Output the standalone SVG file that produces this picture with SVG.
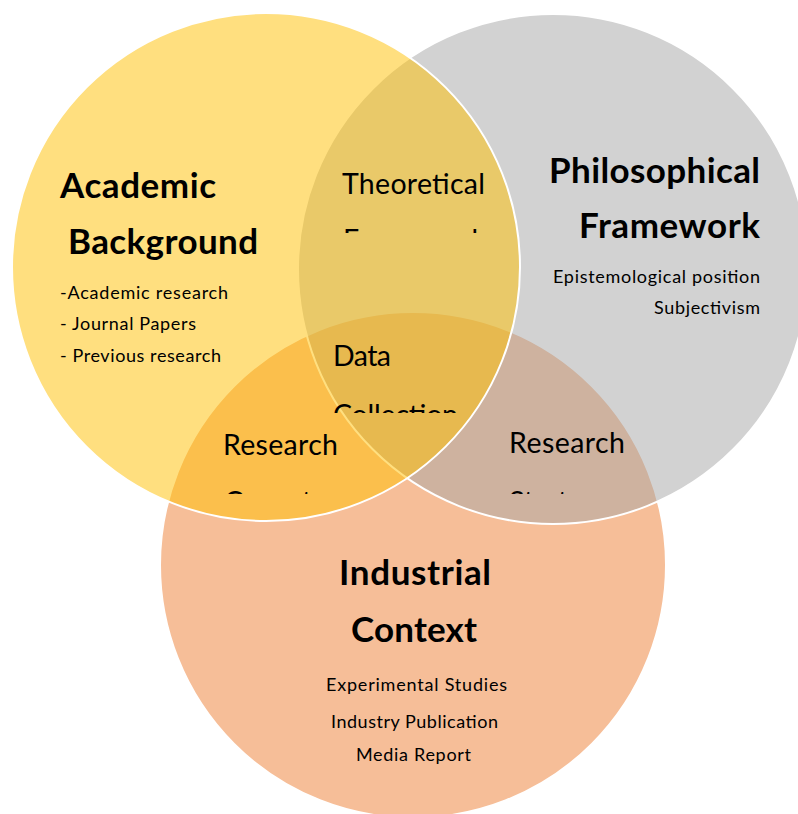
<svg xmlns="http://www.w3.org/2000/svg" width="798" height="814" viewBox="0 0 798 814">
  <style>
    .set { fill-opacity: 0.5; stroke: #FFFFFF; stroke-width: 2; }
    .title { font-family: Lato, "Open Sans", "Liberation Sans", sans-serif; font-weight: bold; font-size: 35px; fill: #000000; }
    .item { font-family: Lato, "Open Sans", "Liberation Sans", sans-serif; font-size: 18px; fill: #000000; }
    .overlap { font-family: Lato, "Open Sans", "Liberation Sans", sans-serif; font-size: 28.5px; fill: #000000; }
  </style>
  <defs>
    <!-- text boxes of the overlap labels cut off their second line -->
    <clipPath id="clipTheory" clipPathUnits="userSpaceOnUse"><rect x="300" y="140" width="220" height="93"/></clipPath>
    <clipPath id="clipData" clipPathUnits="userSpaceOnUse"><rect x="300" y="320" width="200" height="93"/></clipPath>
    <clipPath id="clipConcept" clipPathUnits="userSpaceOnUse"><rect x="190" y="400" width="180" height="94"/></clipPath>
    <clipPath id="clipStrategy" clipPathUnits="userSpaceOnUse"><rect x="480" y="400" width="180" height="94"/></clipPath>
  </defs>

  <rect width="798" height="814" fill="#FFFFFF"/>

  <g id="connectors"/>

  <!-- Industrial Context (bottom layer) -->
  <g id="industrial-context">
    <circle class="set" cx="413" cy="565" r="253" fill="#ED7D31"/>
    <text class="title" x="339" y="585" textLength="152">Industrial</text>
    <text class="title" x="351" y="642" textLength="126">Context</text>
    <text class="item" x="326" y="691" textLength="181">Experimental Studies</text>
    <text class="item" x="331" y="728" textLength="167">Industry Publication</text>
    <text class="item" x="356" y="761" textLength="115">Media Report</text>
  </g>

  <!-- Philosophical Framework (middle layer) -->
  <g id="philosophical-framework">
    <circle class="set" cx="553" cy="269" r="255" fill="#A5A5A5"/>
    <text class="title" x="549" y="183" textLength="211">Philosophical</text>
    <text class="title" x="579" y="238" textLength="181">Framework</text>
    <text class="item" x="553" y="283" textLength="207">Epistemological position</text>
    <text class="item" x="654" y="314" textLength="106">Subjectivism</text>
  </g>

  <!-- Academic Background (top layer) -->
  <g id="academic-background">
    <circle class="set" cx="266" cy="267" r="254" fill="#FFC000"/>
    <text class="title" x="60" y="198" textLength="156">Academic</text>
    <text class="title" x="68" y="254" textLength="190">Background</text>
    <text class="item" x="60" y="299" textLength="168">-Academic research</text>
    <text class="item" x="60" y="330" textLength="136">- Journal Papers</text>
    <text class="item" x="60" y="362" textLength="161">- Previous research</text>
  </g>

  <!-- overlap labels -->
  <g id="theoretical-framework" clip-path="url(#clipTheory)">
    <text class="overlap" x="342" y="194" textLength="143">Theoretical</text>
    <text class="overlap" x="343" y="250" textLength="143">Framework</text>
  </g>

  <g id="data-collection" clip-path="url(#clipData)">
    <text class="overlap" x="333" y="366" textLength="58">Data</text>
    <text class="overlap" x="333" y="425" textLength="125">Collection</text>
  </g>

  <g id="research-concept" clip-path="url(#clipConcept)">
    <text class="overlap" x="223" y="455" textLength="115">Research</text>
    <text class="overlap" x="224" y="512" textLength="88">Concept</text>
  </g>

  <g id="research-strategy" clip-path="url(#clipStrategy)">
    <text class="overlap" x="509" y="453" textLength="116">Research</text>
    <text class="overlap" x="509" y="512" textLength="103">Strategy</text>
  </g>
</svg>
